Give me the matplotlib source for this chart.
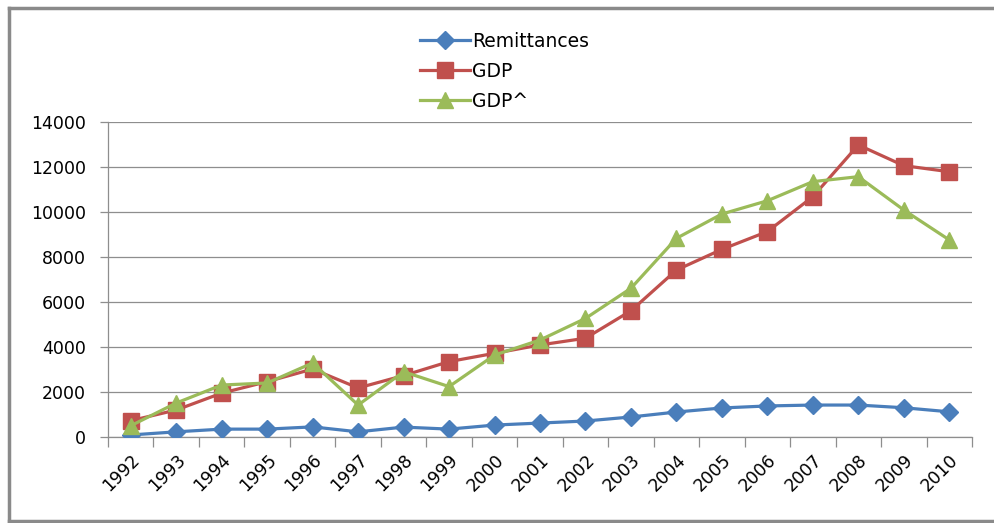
import matplotlib
matplotlib.use("Agg")
import matplotlib.pyplot as plt
from matplotlib.lines import Line2D

years = ["1992", "1993", "1994", "1995", "1996", "1997", "1998", "1999", "2000", "2001",
         "2002", "2003", "2004", "2005", "2006", "2007", "2008", "2009", "2010"]
remittances = [90, 230, 350, 350, 450, 230, 440, 350, 530, 620,
               710, 890, 1110, 1290, 1380, 1420, 1420, 1300, 1120]
gdp = [725, 1200, 1950, 2460, 3020, 2180, 2730, 3350, 3720, 4090,
       4390, 5610, 7420, 8340, 9130, 10680, 12980, 12060, 11790]
gdp_hat = [500, 1510, 2310, 2400, 3290, 1420, 2900, 2240, 3640, 4310,
           5270, 6610, 8830, 9910, 10500, 11350, 11570, 10090, 8760]
y_ticks = [0, 2000, 4000, 6000, 8000, 10000, 12000, 14000]

plt.rcParams["font.family"] = ["DejaVu Sans"]

W, H = 995, 523
fig = plt.figure(figsize=(W / 100, H / 100), dpi=100)
ax = fig.add_axes([108 / W, (H - 437) / H, (972 - 108) / W, (437 - 122) / H])

x = list(range(len(years)))
ax.plot(x, remittances, color="#4a7ebb", lw=2.3, marker="D", ms=9.5,
        label="Remittances", zorder=3)
ax.plot(x, gdp, color="#c0504d", lw=2.3, marker="s", ms=11,
        label="GDP", zorder=4)
ax.plot(x, gdp_hat, color="#9bbb59", lw=2.3, marker="^", ms=12,
        label="GDP^", zorder=5)

ax.set_xlim(-0.5, len(years) - 0.5)
ax.set_ylim(0, 14000)
ax.set_yticks(y_ticks)
ax.set_yticklabels([str(v) for v in y_ticks])
ax.yaxis.grid(True, color="#8e8e8e", lw=0.9)
ax.set_axisbelow(True)

ax.set_xticks(x)
ax.set_xticklabels(years, rotation=45, ha="right", rotation_mode="anchor")
ax.set_xticks([i - 0.5 for i in range(len(years) + 1)], minor=True)
ax.tick_params(axis="x", which="major", length=0, pad=10, labelsize=12.5)
ax.tick_params(axis="x", which="minor", length=7, color="#8e8e8e", width=0.9)
ax.tick_params(axis="y", length=6, color="#8e8e8e", width=0.9, pad=10, labelsize=12.5)

for side in ("top", "right"):
    ax.spines[side].set_visible(False)
for side in ("left", "bottom"):
    ax.spines[side].set_color("#8e8e8e")
    ax.spines[side].set_linewidth(0.9)

fig.legend(loc="upper center", bbox_to_anchor=(0.507, 0.972), frameon=False,
           fontsize=13.5, handlelength=2.7, handletextpad=0.1, labelspacing=0.6)

# outer frame of the chart area
frame_kw = dict(transform=None, color="#8a8a8a", lw=2.5)
fig.lines.append(Line2D([9, 9], [2, H - 8], **frame_kw))
fig.lines.append(Line2D([9, W], [H - 8, H - 8], **frame_kw))
fig.lines.append(Line2D([9, W], [2, 2], **frame_kw))

fig.savefig("out.png", dpi=100)
